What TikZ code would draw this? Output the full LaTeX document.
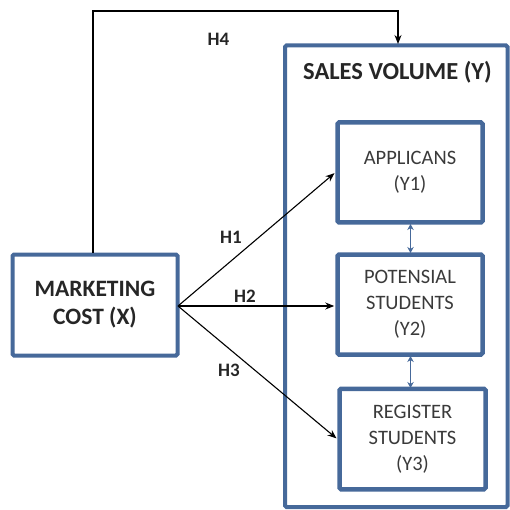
\documentclass[tikz,border=0pt]{standalone}
\usepackage{fontspec}
\setmainfont{Carlito}
\usetikzlibrary{arrows.meta}
\definecolor{boxblue}{HTML}{46699A}
\definecolor{txtgray}{HTML}{3A3A3A}
\tikzset{
  x=1pt, y=-1pt,
  bluebox/.style={draw=boxblue, line width=4.5pt, rectangle, rounded corners=1.5pt, align=center, inner sep=0pt},
  innertext/.style={text=txtgray, font=\fontsize{20.5}{26}\selectfont},
  boldtext/.style={text=black!85, font=\bfseries\fontsize{23.5}{28}\selectfont},
  titletext/.style={text=black!85, font=\bfseries\fontsize{24.5}{28}\selectfont},
  hlabel/.style={text=black!85, font=\bfseries\fontsize{19}{22}\selectfont},
  arr/.style={line width=1.1pt, -{Stealth[length=9pt,width=7pt]}},
  dbl/.style={draw=boxblue, line width=1.4pt, {Stealth[length=6pt,width=6.5pt]}-{Stealth[length=6pt,width=6.5pt]}}
}
\begin{document}
\begin{tikzpicture}
\useasboundingbox (0,0) rectangle (510,510);
\node[bluebox, line width=4pt, minimum width=222.5pt, minimum height=461.5pt] (big) at (396.25,276.25) {};
\node[titletext] (title) at (397.5,72) {SALES VOLUME (Y)};
\node[bluebox, line width=4pt, minimum width=165pt, minimum height=101pt, boldtext] (x) at (95,305) {MARKETING\\COST (X)};
\node[bluebox, minimum width=145pt, minimum height=100pt, innertext] (y1) at (410,172.5) {APPLICANS\\(Y1)};
\node[bluebox, minimum width=145pt, minimum height=100pt, innertext] (y2) at (410,304.5) {POTENSIAL\\STUDENTS\\(Y2)};
\node[bluebox, minimum width=146pt, minimum height=100.5pt, innertext] (y3) at (412.5,439) {REGISTER\\STUDENTS\\(Y3)};
\coordinate (src) at (178,306);
\draw[arr, shorten >=1pt] (src) -- (y1.west);
\draw[arr, shorten >=1pt] (src) -- (src -| y2.west);
\draw[arr, shorten >=1pt] (src) -- (y3.west);
\coordinate (top1) at (93,11);
\coordinate (top2) at (398,11);
\coordinate (xt) at (93,253);
\coordinate (bt) at (398,44);
\draw[arr] (xt) -- (top1) -- (top2) -- (bt);
\coordinate (a1) at (410.5,224);
\coordinate (a2) at (410.5,253);
\coordinate (b1) at (410.5,356);
\coordinate (b2) at (410.5,388);
\draw[dbl] (a1) -- (a2);
\draw[dbl] (b1) -- (b2);
\node[hlabel] (h4) at (218.5,39) {H4};
\node[hlabel] (h1) at (231,237) {H1};
\node[hlabel] (h2) at (245,296.5) {H2};
\node[hlabel] (h3) at (229,370) {H3};
\end{tikzpicture}
\end{document}
